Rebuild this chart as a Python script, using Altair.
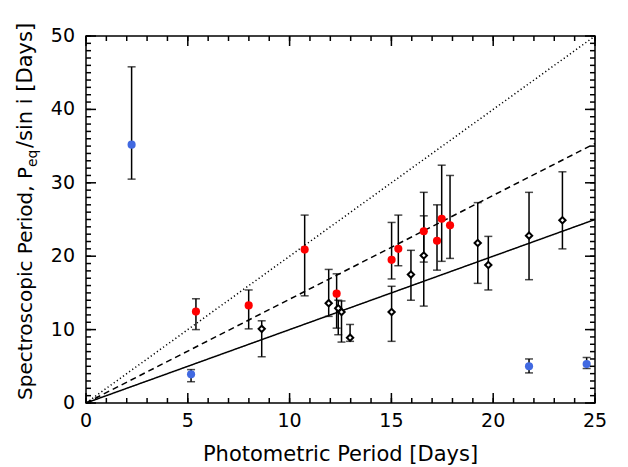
import altair as alt
import pandas as pd

# ---------------- data ----------------
black_x = [8.63, 11.92, 12.39, 12.55, 12.97, 15.01, 15.96, 16.59, 19.24, 19.76, 21.76, 23.40]
black_y = [10.1, 13.6, 12.9, 12.4, 8.9, 12.4, 17.5, 20.1, 21.8, 18.8, 22.8, 24.9]
black_lo = [6.3, 11.8, 9.3, 8.3, 8.4, 8.4, 14.0, 13.2, 16.3, 15.4, 16.8, 21.0]
black_hi = [11.2, 18.2, 14.0, 13.9, 10.7, 15.9, 20.8, 25.5, 27.3, 22.7, 28.7, 31.5]

red_x = [5.40, 7.99, 10.74, 12.31, 15.01, 15.34, 16.59, 17.24, 17.47, 17.88]
red_y = [12.45, 13.3, 20.9, 14.9, 19.5, 21.0, 23.4, 22.1, 25.1, 24.2]
red_lo = [10.0, 10.1, 14.6, 10.2, 16.9, 18.7, 19.2, 18.1, 19.3, 19.7]
red_hi = [14.2, 15.4, 25.6, 17.6, 24.6, 25.6, 28.7, 27.0, 32.4, 31.0]

blue_x = [2.24, 5.16, 21.76, 24.59]
blue_y = [35.2, 3.9, 5.0, 5.3]
blue_lo = [30.5, 2.9, 4.1, 4.7]
blue_hi = [45.8, 4.55, 6.0, 6.2]

line_x = [0, 25]
solid_y = [0, 25]
dashed_y = [0, 35.36]
dotted_y = [0, 50]

x_major = [0, 5, 10, 15, 20, 25]
x_minor = list(range(0, 26))
y_major = [0, 10, 20, 30, 40, 50]
y_minor = list(range(0, 51))
x_labels = ["0", "5", "10", "15", "20", "25"]
y_labels = ["0", "10", "20", "30", "40", "50"]

x_title = "Photometric Period [Days]"
y_title_a = "Spectroscopic Period, P"
y_title_sub = "eq"
y_title_b = "/sin i [Days]"

# ---------------- tables ----------------
rows = []
for g, xs_, ys_, lo_, hi_ in [("black", black_x, black_y, black_lo, black_hi),
                              ("red", red_x, red_y, red_lo, red_hi),
                              ("blue", blue_x, blue_y, blue_lo, blue_hi)]:
    for a, b, c, d in zip(xs_, ys_, lo_, hi_):
        rows.append({"group": g, "x": a, "y": b, "lo": c, "hi": d})
pts = pd.DataFrame(rows)

lrows = []
for style, yy in [("solid", solid_y), ("dashed", dashed_y), ("dotted", dotted_y)]:
    for a, b in zip(line_x, yy):
        lrows.append({"style": style, "x": a, "y": b})
lines_df = pd.DataFrame(lrows)

FONT = "DejaVu Sans"
W, H = 509, 367
xs = alt.Scale(domain=[0, 25], nice=False, zero=False)
ys = alt.Scale(domain=[0, 50], nice=False, zero=False)


def X(field):
    return alt.X(field, scale=xs, axis=None)


def Y(field):
    return alt.Y(field, scale=ys, axis=None)


lines = alt.Chart(lines_df).mark_line(color="black", strokeWidth=1.5).encode(
    x=X("x:Q"), y=Y("y:Q"),
    detail="style:N",
    strokeDash=alt.StrokeDash("style:N", scale=alt.Scale(domain=["solid", "dashed", "dotted"],
                                                         range=[[1, 0], [6, 4], [1.2, 2.6]]),
                              legend=None),
)

base = alt.Chart(pts)

rules = base.mark_rule(color="black", strokeWidth=1.5).encode(
    x=X("x:Q"), y=Y("lo:Q"), y2="hi:Q",
)
cap_lo = base.mark_tick(orient="horizontal", size=8, thickness=1.5, color="black").encode(
    x=X("x:Q"), y=Y("lo:Q"),
)
cap_hi = base.mark_tick(orient="horizontal", size=8, thickness=1.5, color="black").encode(
    x=X("x:Q"), y=Y("hi:Q"),
)

black_pts = base.transform_filter(alt.datum.group == "black").mark_point(
    shape="diamond", size=40, filled=True, fill="white", stroke="black", strokeWidth=2, opacity=1
).encode(x=X("x:Q"), y=Y("y:Q"))

color_pts = base.transform_filter(alt.datum.group != "black").mark_point(
    shape="circle", size=66, filled=True, opacity=1
).encode(
    x=X("x:Q"), y=Y("y:Q"),
    color=alt.Color("group:N", scale=alt.Scale(domain=["red", "blue"], range=["#ff0000", "#4169e1"]),
                    legend=None),
)


# inward frame ticks on all four sides (tick values go through the shared scales)
def xticks(values, length):
    d = pd.DataFrame({"x": values})
    return [alt.Chart(d).mark_tick(orient="vertical", size=length, thickness=1.5,
                                   color="black", opacity=1).encode(
        x=X("x:Q"), y=alt.value(ypos)) for ypos in (H - length / 2, length / 2)]


def yticks(values, length):
    d = pd.DataFrame({"y": values})
    return [alt.Chart(d).mark_tick(orient="horizontal", size=length, thickness=1.5,
                                   color="black", opacity=1).encode(
        y=Y("y:Q"), x=alt.value(xpos)) for xpos in (length / 2, W - length / 2)]


tick_layers = xticks(x_major, 10) + xticks(x_minor, 5) + yticks(y_major, 10) + yticks(y_minor, 5)

# tick labels
xlab = alt.Chart(pd.DataFrame({"x": x_major, "lab": x_labels})).mark_text(
    align="center", baseline="top", font=FONT, fontSize=19, color="black"
).encode(x=X("x:Q"), y=alt.value(H + 9), text="lab:N")
ylab = alt.Chart(pd.DataFrame({"y": y_major, "lab": y_labels})).mark_text(
    align="right", baseline="middle", font=FONT, fontSize=19, color="black"
).encode(y=Y("y:Q"), x=alt.value(-11), text="lab:N")

# titles
xtit = alt.Chart(pd.DataFrame({"t": [x_title]})).mark_text(
    align="center", baseline="alphabetic", font=FONT, fontSize=21, color="black"
).encode(text="t:N", x=alt.value(W / 2), y=alt.value(H + 58))

TX = -54
TY = 131
t_a = alt.Chart(pd.DataFrame({"t": [y_title_a]})).mark_text(
    angle=270, align="right", baseline="alphabetic", font=FONT, fontSize=20, color="black"
).encode(text="t:N", x=alt.value(TX), y=alt.value(TY))
t_sub = alt.Chart(pd.DataFrame({"t": [y_title_sub]})).mark_text(
    angle=270, align="left", baseline="alphabetic", font=FONT, fontSize=14, color="black"
).encode(text="t:N", x=alt.value(TX + 5), y=alt.value(TY))
t_b = alt.Chart(pd.DataFrame({"t": [y_title_b]})).mark_text(
    angle=270, align="left", baseline="alphabetic", font=FONT, fontSize=21, color="black"
).encode(text="t:N", x=alt.value(TX), y=alt.value(TY - 19))

chart = alt.layer(
    lines, rules, cap_lo, cap_hi, black_pts, color_pts, *tick_layers,
    xlab, ylab, xtit, t_a, t_sub, t_b
).properties(
    width=W, height=H,
    autosize=alt.AutoSizeParams(type="none"),
    padding={"left": 78, "top": 28, "right": 17, "bottom": 64},
    background="white",
).configure_view(stroke="black", strokeWidth=1.5)

chart.save("out.html", embed_options={"renderer": "svg", "actions": False})
